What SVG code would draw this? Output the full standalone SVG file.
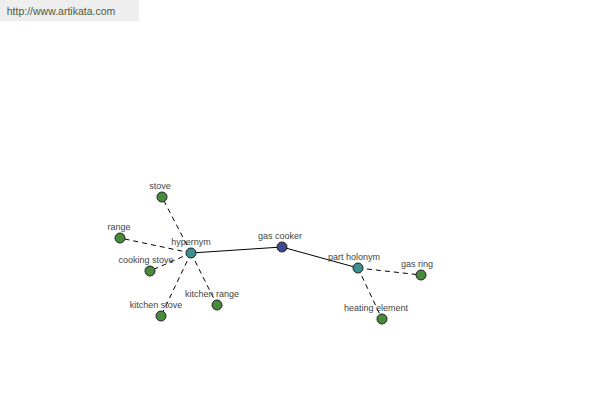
<svg xmlns="http://www.w3.org/2000/svg" width="600" height="400" viewBox="0 0 600 400">
<style>
text{font-family:"Liberation Sans",Arial,sans-serif;font-size:9px;fill:#444;text-anchor:middle}
.n circle{stroke:#222;stroke-width:1}
.leaf{fill:#4a8a3c}
.rel{fill:#3d9090}
.root{fill:#3d4a8c}
.solid{stroke:#000;stroke-width:1;fill:none}
.dash{stroke:#000;stroke-width:1;stroke-dasharray:5,4;fill:none}
</style>
<rect x="0" y="0" width="139" height="21" fill="#eeeeee"/>
<text x="61" y="15" style="font-size:10.5px;fill:#4d5a3c">http://www.artikata.com</text>
<g id="connectors">
<line class="solid" x1="191" y1="253" x2="282" y2="247"/>
<line class="solid" x1="282" y1="247" x2="358" y2="268"/>
<line class="dash" x1="191" y1="253" x2="162" y2="197"/>
<line class="dash" x1="191" y1="253" x2="120" y2="238"/>
<line class="dash" x1="191" y1="253" x2="150" y2="271"/>
<line class="dash" x1="191" y1="253" x2="161" y2="316"/>
<line class="dash" x1="191" y1="253" x2="217" y2="305"/>
<line class="dash" x1="358" y1="268" x2="421" y2="275"/>
<line class="dash" x1="358" y1="268" x2="382" y2="319"/>
</g>
<g id="stove" class="n"><circle class="leaf" cx="162" cy="197" r="5"/><text x="160" y="189">stove</text></g>
<g id="range" class="n"><circle class="leaf" cx="120" cy="238" r="5"/><text x="119" y="230">range</text></g>
<g id="cooking-stove" class="n"><circle class="leaf" cx="150" cy="271" r="5"/><text x="146" y="263">cooking stove</text></g>
<g id="kitchen-stove" class="n"><circle class="leaf" cx="161" cy="316" r="5"/><text x="156" y="308">kitchen stove</text></g>
<g id="kitchen-range" class="n"><circle class="leaf" cx="217" cy="305" r="5"/><text x="212" y="297">kitchen range</text></g>
<g id="hypernym" class="n"><circle class="rel" cx="191" cy="253" r="5"/><text x="191" y="245">hypernym</text></g>
<g id="gas-cooker" class="n"><circle class="root" cx="282" cy="247" r="5"/><text x="280" y="239">gas cooker</text></g>
<g id="part-holonym" class="n"><circle class="rel" cx="358" cy="268" r="5"/><text x="354" y="260">part holonym</text></g>
<g id="gas-ring" class="n"><circle class="leaf" cx="421" cy="275" r="5"/><text x="417" y="267">gas ring</text></g>
<g id="heating-element" class="n"><circle class="leaf" cx="382" cy="319" r="5"/><text x="376" y="311">heating element</text></g>
</svg>
